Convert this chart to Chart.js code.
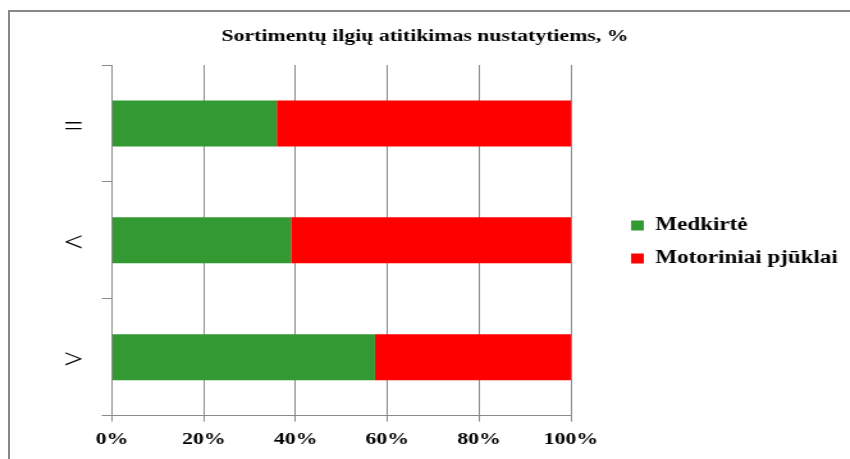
<!DOCTYPE html>
<html lang="lt">
<head>
    <meta charset="utf-8">
    <title>Sortimentų ilgių atitikimas nustatytiems</title>
    <script src="https://cdn.jsdelivr.net/npm/chart.js@4.4.0/dist/chart.umd.min.js"></script>
    <style>
        html, body { margin: 0; padding: 0; background: #fff; overflow: hidden; }
        .remelis {
            position: absolute; left: 8px; top: 10px;
            width: 900px; height: 500px;
            border-left: 2px solid #878787;
            border-top: 2px solid #878787;
        }
        /* diagrama ištempta horizontaliai, kaip originaliame Excel paveiksle */
        #grafikas {
            position: absolute; left: 0; top: 0;
            transform: scaleX(1.28);
            transform-origin: 0 0;
        }
    </style>
</head>
<body>
    <div class="remelis"></div>
    <canvas id="grafikas" width="664" height="459"></canvas>
    <script>
        var kategorijos = ['=', '<', '>'];
        var medkirte = [35.9, 39.0, 57.3];
        var motoriniai = [64.1, 61.0, 42.7];
        var asiesZymes = [0, 20, 40, 60, 80, 100];

        var serif = '"Liberation Serif", "Times New Roman", serif';
        var pilka = '#8a8a8a';

        // legenda dešinėje, atitraukta nuo brėžinio srities
        const legendosVieta = {
            id: 'legendosVieta',
            afterLayout(chart) {
                const lg = chart.legend;
                lg.left = 478;
                lg.right = chart.width;
                lg.width = lg.right - lg.left;
            }
        };

        const ctx = document.getElementById('grafikas').getContext('2d');
        const grafikas = new Chart(ctx, {
            type: 'bar',
            data: {
                labels: kategorijos,
                datasets: [{
                    label: 'Medkirtė',
                    data: medkirte,
                    backgroundColor: '#339933',
                    borderWidth: 0,
                    categoryPercentage: 1,
                    barPercentage: 0.394
                }, {
                    label: 'Motoriniai pjūklai',
                    data: motoriniai,
                    backgroundColor: '#ff0000',
                    borderWidth: 0,
                    categoryPercentage: 1,
                    barPercentage: 0.394
                }]
            },
            options: {
                indexAxis: 'y',
                responsive: false,
                animation: false,
                layout: {
                    padding: { top: 26, bottom: 1, left: 0, right: 0 }
                },
                scales: {
                    x: {
                        stacked: true,
                        min: 0,
                        max: 100,
                        afterBuildTicks: function (scale) {
                            scale.ticks = asiesZymes.map(v => ({ value: v }));
                        },
                        afterFit: function (scale) {
                            // tarpas tarp brėžinio ir legendos
                            scale.paddingRight = 218;
                        },
                        ticks: {
                            callback: v => v + '%',
                            color: '#000',
                            padding: 8,
                            maxRotation: 0,
                            font: { family: serif, size: 17, weight: 'bold' }
                        },
                        grid: { color: pilka, tickLength: 6, lineWidth: 1 },
                        border: { color: pilka, width: 1 }
                    },
                    y: {
                        stacked: true,
                        afterFit: function (scale) {
                            scale.width = 87.5;
                        },
                        ticks: {
                            color: '#000',
                            padding: 14.5,
                            labelOffset: 4,
                            font: { family: serif, size: 27 }
                        },
                        grid: {
                            offset: true,
                            drawOnChartArea: false,
                            color: pilka,
                            tickLength: 8
                        },
                        border: { color: pilka, width: 1 }
                    }
                },
                plugins: {
                    title: {
                        display: true,
                        text: 'Sortimentų ilgių atitikimas nustatytiems, %',
                        color: '#000',
                        font: { family: serif, size: 17, weight: 'bold' },
                        padding: { top: 0, bottom: 18.6 }
                    },
                    legend: {
                        position: 'right',
                        align: 'center',
                        labels: {
                            color: '#000',
                            boxWidth: 10,
                            boxHeight: 10,
                            padding: 15,
                            font: { family: serif, size: 18, weight: 'bold' }
                        }
                    },
                    tooltip: { enabled: false }
                }
            },
            plugins: [legendosVieta]
        });
    </script>
</body>
</html>
